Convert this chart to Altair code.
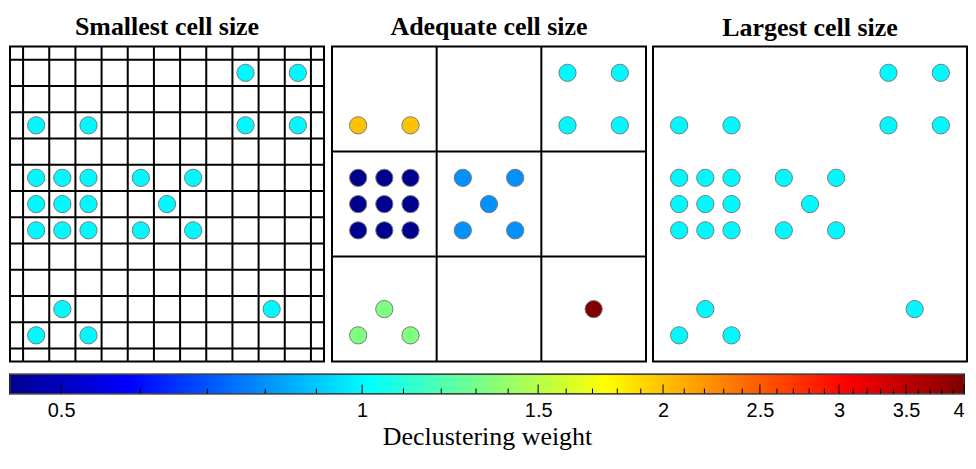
import altair as alt
import pandas as pd

# ---- data (grid units, y counted from the top) ----
xs = [9, 11, 1, 3, 9, 11, 1, 2, 3, 5, 7, 1, 2, 3, 6, 1, 2, 3, 5, 7, 2, 10, 1, 3]
ys = [1, 1, 3, 3, 3, 3, 5, 5, 5, 5, 5, 6, 6, 6, 6, 7, 7, 7, 7, 7, 10, 10, 11, 11]

w_small = [1.0] * 24
w_adequate = [1.0, 1.0, 2.0, 2.0, 1.0, 1.0,
              0.444, 0.444, 0.444, 0.8, 0.8,
              0.444, 0.444, 0.444, 0.8,
              0.444, 0.444, 0.444, 0.8, 0.8,
              1.333, 4.0, 1.333, 1.333]
w_large = [1.0] * 24

grid_small = [0.5, 1.5, 2.5, 3.5, 4.5, 5.5, 6.5, 7.5, 8.5, 9.5, 10.5, 11.5]
grid_adequate = [4, 8]
grid_large = []

panel_titles = ["Smallest cell size", "Adequate cell size", "Largest cell size"]

major_ticks = [0.5, 1, 1.5, 2, 2.5, 3, 3.5, 4]
minor_ticks = [0.6, 0.7, 0.8, 0.9, 1.1, 1.2, 1.3, 1.4, 1.6, 1.7, 1.8, 1.9,
               2.1, 2.2, 2.3, 2.4, 2.6, 2.7, 2.8, 2.9, 3.1, 3.2, 3.3, 3.4,
               3.6, 3.7, 3.8, 3.9]

w_min, w_max = 4 / 9, 4.0
jet_colors = ["#00008f", "#0000ff", "#00ffff", "#ffff00", "#ff0000", "#800000"]
jet_offsets = [0, 0.125, 0.375, 0.625, 0.875, 1]

# ---- layout ----
PW, PH = 315, 316
CB_W, CB_H = 957, 19

color_domain = [w_min * (w_max / w_min) ** f for f in jet_offsets]
color_scale = alt.Scale(type="log", domain=color_domain, range=jet_colors, interpolate="rgb")

xscale = alt.Scale(domain=[0, 12], nice=False, zero=False)
yscale = alt.Scale(domain=[0, 12], nice=False, zero=False, reverse=True)


def panel(weights, grid, title):
    pts = pd.DataFrame({"x": xs, "y": ys, "w": weights})
    layers = []
    if grid:
        g = pd.DataFrame({"g": grid})
        layers.append(alt.Chart(g).mark_rule(color="black", strokeWidth=2).encode(
            x=alt.X("g:Q", scale=xscale, axis=None)))
        layers.append(alt.Chart(g).mark_rule(color="black", strokeWidth=2).encode(
            y=alt.Y("g:Q", scale=yscale, axis=None)))
    layers.append(alt.Chart(pts).mark_circle(size=300, opacity=1, stroke="#7a7a7a", strokeWidth=1).encode(
        x=alt.X("x:Q", scale=xscale, axis=None),
        y=alt.Y("y:Q", scale=yscale, axis=None),
        color=alt.Color("w:Q", scale=color_scale, legend=None),
    ))
    return alt.layer(*layers).properties(
        width=PW, height=PH,
        title=alt.TitleParams(title, font="Liberation Serif", fontSize=26, fontWeight="bold",
                              color="black", anchor="middle", offset=6),
    )


top = alt.hconcat(
    panel(w_small, grid_small, panel_titles[0]),
    panel(w_adequate, grid_adequate, panel_titles[1]),
    panel(w_large, grid_large, panel_titles[2]),
    spacing=4,
)

cb_scale = alt.Scale(type="log", domain=[w_min, w_max], nice=False, zero=False)
cb_axis = alt.Axis(values=major_ticks, format="~g", domain=False, ticks=False, grid=False,
                   labelFont="Liberation Sans", labelFontSize=20, labelColor="black",
                   labelPadding=7, title="Declustering weight", titleFont="Liberation Serif",
                   titleFontSize=26, titleFontWeight="normal", titleColor="black", titlePadding=3)

gradient = alt.Gradient(
    gradient="linear", x1=0, x2=1, y1=0, y2=0,
    stops=[alt.GradientStop(color=c, offset=o) for c, o in zip(jet_colors, jet_offsets)],
)

bar = alt.Chart(pd.DataFrame({"a": [w_min], "b": [w_max]})).mark_rect(
    color=gradient, stroke="#444444", strokeWidth=1
).encode(
    x=alt.X("a:Q", scale=cb_scale, axis=cb_axis),
    x2="b:Q",
    y=alt.value(0),
    y2=alt.value(CB_H),
)
major_rules = alt.Chart(pd.DataFrame({"t": major_ticks})).mark_rule(color="black", strokeWidth=1).encode(
    x=alt.X("t:Q", scale=cb_scale, axis=cb_axis),
    y=alt.value(CB_H),
    y2=alt.value(CB_H - 9),
)
minor_rules = alt.Chart(pd.DataFrame({"t": minor_ticks})).mark_rule(color="black", strokeWidth=1).encode(
    x=alt.X("t:Q", scale=cb_scale, axis=cb_axis),
    y=alt.value(CB_H),
    y2=alt.value(CB_H - 5),
)
colorbar = alt.layer(bar, major_rules, minor_rules).properties(width=CB_W, height=CB_H)

chart = alt.vconcat(top, colorbar, spacing=9).properties(
    padding={"top": 4, "left": 0, "right": 0, "bottom": 0},
    background="white",
).configure_view(
    stroke="black", strokeWidth=2
)

chart.save("out.html", embed_options={"renderer": "svg", "actions": False})
